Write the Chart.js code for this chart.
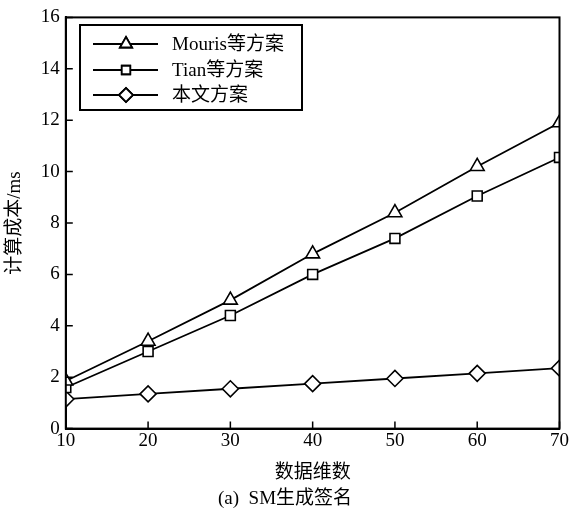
<!DOCTYPE html>
<html>
<head>
<meta charset="utf-8">
<script src="https://cdn.jsdelivr.net/npm/chart.js@4"></script>
<style>
  html, body { margin: 0; padding: 0; background: #fff; }
  #wrap { width: 570px; height: 516px; }
</style>
</head>
<body>
<div id="wrap"><canvas id="chart"></canvas></div>
<script>
const dims = [10, 20, 30, 40, 50, 60, 70];
const mourisCost = [1.85, 3.4, 5.0, 6.8, 8.4, 10.2, 11.9];
const tianCost = [1.6, 3.0, 4.4, 6.0, 7.4, 9.05, 10.55];
const oursCost = [1.15, 1.35, 1.55, 1.75, 1.95, 2.15, 2.35];
const seriesNames = ['Mouris等方案', 'Tian等方案', '本文方案'];

const fontFamily = '"Liberation Serif", "Noto Sans CJK SC", serif';

function toPoints(vals) {
    return dims.map((d, i) => ({ x: d, y: vals[i] }));
}

// box around the plot, inward ticks, and the framed legend
const framePlugin = {
    id: 'frame',
    afterDraw(chart) {
        const ctx = chart.ctx;
        const area = chart.chartArea;
        const xs = chart.scales.x;
        const ys = chart.scales.y;
        ctx.save();
        ctx.strokeStyle = '#000';
        ctx.lineWidth = 2;
        ctx.strokeRect(area.left, area.top, area.right - area.left, area.bottom - area.top);

        ctx.lineWidth = 1.5;
        ctx.beginPath();
        xs.ticks.forEach(t => {
            const px = xs.getPixelForValue(t.value);
            ctx.moveTo(px, area.bottom);
            ctx.lineTo(px, area.bottom - 7);
        });
        ys.ticks.forEach(t => {
            const py = ys.getPixelForValue(t.value);
            ctx.moveTo(area.left, py);
            ctx.lineTo(area.left + 7, py);
        });
        ctx.stroke();

        // legend
        const box = { x: 80, y: 25, w: 222, h: 85 };
        ctx.lineWidth = 2;
        ctx.strokeRect(box.x, box.y, box.w, box.h);
        const rows = [44, 70, 95];
        ctx.font = '19px ' + fontFamily;
        ctx.textBaseline = 'middle';
        ctx.fillStyle = '#000';
        chart.data.datasets.forEach((ds, i) => {
            const y = rows[i];
            ctx.lineWidth = 1.8;
            ctx.beginPath();
            ctx.moveTo(93, y);
            ctx.lineTo(158, y);
            ctx.stroke();
            ctx.fillStyle = '#fff';
            Chart.helpers.drawPoint(ctx, {
                pointStyle: ds.pointStyle,
                radius: ds.pointRadius - 1,
                rotation: 0,
                borderWidth: 1.5
            }, 126, y);
            ctx.fill();
            ctx.stroke();
            ctx.fillStyle = '#000';
            ctx.fillText(ds.label, 172, y + 1);
        });
        ctx.restore();
    }
};

function makeSet(label, vals, style, radius) {
    return {
        label: label,
        data: toPoints(vals),
        borderColor: '#000',
        borderWidth: 1.8,
        backgroundColor: '#fff',
        pointStyle: style,
        pointRadius: radius,
        pointBorderWidth: 1.6,
        pointBackgroundColor: '#fff',
        pointBorderColor: '#000',
        tension: 0
    };
}

new Chart(document.getElementById('chart'), {
    type: 'line',
    data: {
        datasets: [
            makeSet(seriesNames[0], mourisCost, 'triangle', 8),
            makeSet(seriesNames[1], tianCost, 'rect', 7),
            makeSet(seriesNames[2], oursCost, 'rectRot', 8)
        ]
    },
    options: {
        responsive: true,
        maintainAspectRatio: false,
        animation: false,
        layout: { padding: { left: 4, right: 4, top: 4, bottom: 4 } },
        plugins: {
            legend: { display: false },
            tooltip: { enabled: false },
            title: {
                display: true,
                position: 'bottom',
                text: '(a)  SM生成签名',
                color: '#000',
                font: { family: fontFamily, size: 19, weight: 'normal' },
                padding: { top: 2, bottom: 2 }
            }
        },
        scales: {
            x: {
                type: 'linear',
                min: 10,
                max: 70,
                ticks: {
                    stepSize: 10,
                    color: '#000',
                    padding: 1,
                    font: { family: fontFamily, size: 19 }
                },
                grid: { display: false, drawTicks: false },
                border: { display: true, color: '#000', width: 2 },
                title: {
                    display: true,
                    text: '数据维数',
                    color: '#000',
                    font: { family: fontFamily, size: 19 },
                    padding: { top: 8, bottom: 1 }
                }
            },
            y: {
                min: 0,
                max: 16,
                ticks: {
                    stepSize: 2,
                    color: '#000',
                    padding: 6,
                    font: { family: fontFamily, size: 19 }
                },
                grid: { display: false, drawTicks: false },
                border: { display: true, color: '#000', width: 2 },
                title: {
                    display: true,
                    text: '计算成本/ms',
                    color: '#000',
                    font: { family: fontFamily, size: 19 },
                    padding: { top: 0, bottom: 8 }
                }
            }
        }
    },
    plugins: [framePlugin]
});
</script>
</body>
</html>
